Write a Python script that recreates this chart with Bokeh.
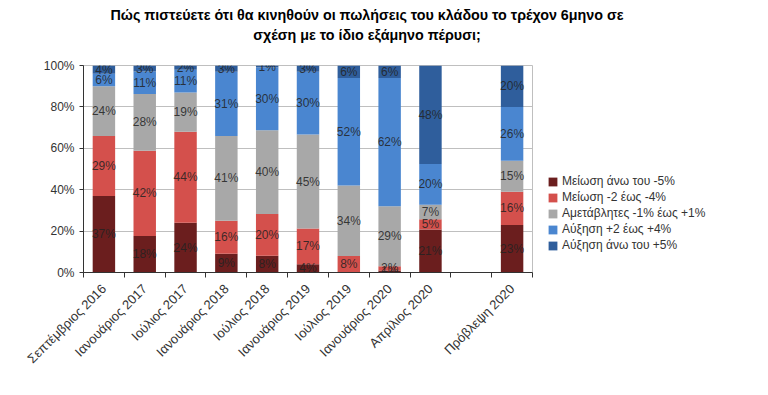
import math
from bokeh.plotting import figure
from bokeh.layouts import column
from bokeh.models import (ColumnDataSource, Range1d, FixedTicker, Legend, Div)
from bokeh.core.properties import value
from bokeh.embed import file_html
from bokeh.resources import INLINE

title_lines = ["Πώς πιστεύετε ότι θα κινηθούν οι πωλήσεις του κλάδου το τρέχον 6μηνο σε",
               "σχέση με το ίδιο εξάμηνο πέρυσι;"]
categories = ["Σεπτέμβριος 2016", "Ιανουάριος 2017", "Ιούλιος 2017", "Ιανουάριος 2018",
              "Ιούλιος 2018", "Ιανουάριος 2019", "Ιούλιος 2019", "Ιανουάριος 2020",
              "Απρίλιος 2020", "", "Πρόβλεψη 2020"]
dec5 = [37, 18, 24, 9, 8, 4, 0, 1, 21, 0, 23]
dec2_4 = [29, 42, 44, 16, 20, 17, 8, 2, 5, 0, 16]
flat = [24, 28, 19, 41, 40, 45, 34, 29, 7, 0, 15]
inc2_4 = [6, 11, 11, 31, 30, 30, 52, 62, 20, 0, 26]
inc5 = [4, 3, 2, 3, 1, 3, 6, 6, 48, 0, 20]
series_names = ["Μείωση άνω του -5%", "Μείωση -2 έως -4%", "Αμετάβλητες -1% έως +1%",
                "Αύξηση +2 έως +4%", "Αύξηση άνω του +5%"]
colors = ["#6B1E1E", "#D4504C", "#A8A8A8", "#4A86D0", "#2F5E9C"]
y_ticks = [0, 20, 40, 60, 80, 100]

series = [dec5, dec2_4, flat, inc2_4, inc5]
keys = ["s0", "s1", "s2", "s3", "s4"]
n = len(categories)
xs = [i + 0.5 for i in range(n)]
totals = [sum(s[i] for s in series) for i in range(n)]
data = {"x": xs}
for k, s in zip(keys, series):
    data[k] = [v / t * 100 if t else 0 for v, t in zip(s, totals)]
src = ColumnDataSource(data)

title_div = Div(text="<br>".join(title_lines), width=724, height=40,
                styles={"font-family": "Liberation Sans", "font-size": "14.3px",
                        "font-weight": "bold", "text-align": "center",
                        "line-height": "20px", "color": "#000000", "width": "724px"})

p = figure(frame_width=449, frame_height=207, output_backend="svg", toolbar_location=None,
           x_range=Range1d(0, n), y_range=Range1d(0, 100),
           min_border_left=83, min_border_right=0, min_border_bottom=100, min_border_top=15)
p.background_fill_color = "white"
p.outline_line_color = "#BFBFBF"

rs = p.vbar_stack(keys, x="x", width=0.55, source=src, color=colors, line_color=None)

# data labels
lx, ly, lt = [], [], []
for i in range(n):
    cum = 0
    for k, s in zip(keys, series):
        h = data[k][i]
        if s[i] > 0:
            lx.append(xs[i]); ly.append(cum + h / 2); lt.append(f"{s[i]}%")
        cum += h
p.text(x=lx, y=ly, text=lt, text_align="center", text_baseline="middle",
       text_font=value("Liberation Sans"), text_font_size="12px", text_color="#222222",
       text_alpha=0.85)

# axes
p.xaxis.ticker = FixedTicker(ticks=xs, minor_ticks=[i for i in range(n + 1)])
p.xaxis.major_label_overrides = {x: c for x, c in zip(xs, categories)}
p.xaxis.major_label_orientation = math.pi / 4
p.xaxis.major_tick_line_color = None
p.xaxis.minor_tick_line_color = "#333333"
p.xaxis.minor_tick_out = 5
p.xaxis.minor_tick_in = 0
p.xaxis.axis_line_color = "#333333"
p.xaxis.major_label_text_font = "Liberation Sans"
p.xaxis.major_label_text_font_size = "13px"
p.xaxis.major_label_text_color = "#333333"
p.xaxis.major_label_standoff = 8

p.yaxis.ticker = FixedTicker(ticks=y_ticks)
p.yaxis.major_label_overrides = {t: f"{t}%" for t in y_ticks}
p.yaxis.axis_line_color = "#333333"
p.yaxis.major_tick_line_color = "#333333"
p.yaxis.major_tick_out = 4
p.yaxis.major_tick_in = 0
p.yaxis.minor_tick_line_color = None
p.yaxis.major_label_text_font = "Liberation Sans"
p.yaxis.major_label_text_font_size = "12px"
p.yaxis.major_label_text_color = "#333333"

p.xgrid.grid_line_color = None
p.ygrid.grid_line_color = "#BFBFBF"

legend = Legend(items=[(nm, [r]) for nm, r in zip(series_names, rs)],
                location=(15, 20), orientation="vertical")
legend.border_line_color = None
legend.background_fill_alpha = 0
legend.padding = 0
legend.margin = 0
legend.spacing = 2
legend.glyph_width = 11
legend.glyph_height = 11
legend.label_height = 12
legend.label_standoff = 4
legend.label_text_font = "Liberation Sans"
legend.label_text_font_size = "12px"
legend.label_text_color = "#333333"
legend.label_width = 190
p.add_layout(legend, "right")

layout = column(title_div, p, spacing=0)
open("out.html", "w").write(file_html(layout, INLINE))
